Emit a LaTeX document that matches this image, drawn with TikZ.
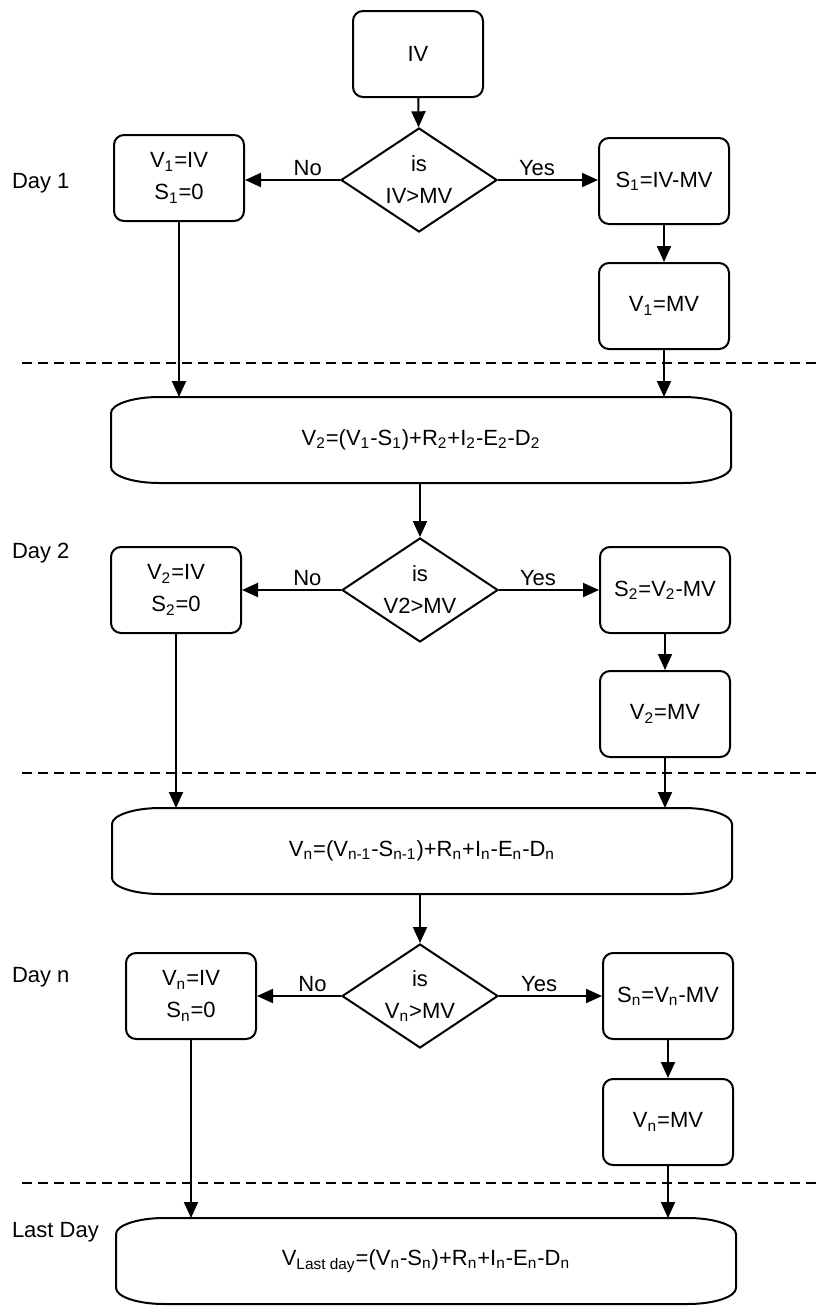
\documentclass[tikz,border=0pt]{standalone}
\usepackage{fontspec}
\setmainfont{Liberation Sans}
\usetikzlibrary{arrows.meta,shapes.geometric}
\newcommand{\ix}[1]{\textsubscript{#1}}

\begin{document}
\begin{tikzpicture}[x=0.5pt,y=-0.5pt,font=\fontsize{11pt}{16pt}\selectfont,line width=1pt,
  box/.style={draw,rounded corners=5pt,minimum width=65pt,minimum height=43pt,align=center,inner sep=0pt},
  wide/.style={minimum width=309pt,minimum height=42pt,inner sep=0pt},
  test/.style={draw,diamond,shape aspect=1.5,minimum width=78pt,minimum height=52pt,align=center,inner sep=0pt},
  go/.style={-{Triangle[length=8pt,width=7pt]}},
  lab/.style={above,inner sep=1.5pt}]
\useasboundingbox (0,0) rectangle (817,1306);
\foreach \y in {363,773,1183} {\draw[line width=0.6pt,dash pattern=on 5pt off 3pt] (22,\y)--(817,\y);}
\foreach \y/\lab [count=\i] in {183/Day 1,553/Day 2,977/Day n,1232/Last Day} {\node[anchor=west,inner sep=0pt] (day\i) at (11,\y) {\lab};}
% day 1
\node[box] (iv) at (418,54) {IV};
\node[test] (dec1) at (419,180) {is\\IV>MV};
\node[box] (keep1) at (179,178) {V\ix{1}=IV\\S\ix{1}=0};
\node[box] (spill1) at (664,181) {S\ix{1}=IV-MV};
\node[box] (cap1) at (664,306) {V\ix{1}=MV};
\node[wide] (bal2) at (421,440) {V\ix{2}=(V\ix{1}-S\ix{1})+R\ix{2}+I\ix{2}-E\ix{2}-D\ix{2}};
\draw[go] (iv)--(dec1);
\draw[go] (dec1.west)--(dec1.west -| keep1.east) node[lab,pos=0.34]{No};
\draw[go] (dec1.east)--(dec1.east -| spill1.west) node[lab,pos=0.39]{Yes};
\draw[go] (spill1)--(cap1);
\draw[go] (keep1.south)--(keep1.south |- bal2.north);
\draw[go] (cap1.south)--(cap1.south |- bal2.north);
% day 2
\node[test] (dec2) at (420,590) {is\\V2>MV};
\node[box] (keep2) at (176,590) {V\ix{2}=IV\\S\ix{2}=0};
\node[box] (spill2) at (665,590) {S\ix{2}=V\ix{2}-MV};
\node[box] (cap2) at (665,714) {V\ix{2}=MV};
\node[wide] (baln) at (422,851) {V\ix{n}=(V\ix{n-1}-S\ix{n-1})+R\ix{n}+I\ix{n}-E\ix{n}-D\ix{n}};
\draw[go] (dec2.north |- bal2.south)--(dec2.north);
\draw[go] (dec2.west)--(dec2.west -| keep2.east) node[lab,pos=0.34]{No};
\draw[go] (dec2.east)--(dec2.east -| spill2.west) node[lab,pos=0.39]{Yes};
\draw[go] (spill2)--(cap2);
\draw[go] (keep2.south)--(keep2.south |- baln.north);
\draw[go] (cap2.south)--(cap2.south |- baln.north);
% day n
\node[test] (decn) at (420,996) {is\\V\ix{n}>MV};
\node[box] (keepn) at (191,996) {V\ix{n}=IV\\S\ix{n}=0};
\node[box] (spilln) at (668,996) {S\ix{n}=V\ix{n}-MV};
\node[box] (capn) at (668,1122) {V\ix{n}=MV};
\node[wide] (last) at (426,1261) {V\ix{Last day}=(V\ix{n}-S\ix{n})+R\ix{n}+I\ix{n}-E\ix{n}-D\ix{n}};
\draw[go] (decn.north |- baln.south)--(decn.north);
\draw[go] (decn.west)--(decn.west -| keepn.east) node[lab,pos=0.34]{No};
\draw[go] (decn.east)--(decn.east -| spilln.west) node[lab,pos=0.39]{Yes};
\draw[go] (spilln)--(capn);
\draw[go] (keepn.south)--(keepn.south |- last.north);
\draw[go] (capn.south)--(capn.south |- last.north);
% balance boxes with flat corners
\foreach \w in {bal2,baln,last}
  \draw ([xshift=24pt]\w.north west) -- ([xshift=-24pt]\w.north east)
    .. controls ([xshift=-11pt]\w.north east) and ([yshift=-3.6pt]\w.north east) .. ([yshift=-8pt]\w.north east)
    -- ([yshift=8pt]\w.south east)
    .. controls ([yshift=3.6pt]\w.south east) and ([xshift=-11pt]\w.south east) .. ([xshift=-24pt]\w.south east)
    -- ([xshift=24pt]\w.south west)
    .. controls ([xshift=11pt]\w.south west) and ([yshift=3.6pt]\w.south west) .. ([yshift=8pt]\w.south west)
    -- ([yshift=-8pt]\w.north west)
    .. controls ([yshift=-3.6pt]\w.north west) and ([xshift=11pt]\w.north west) .. cycle;
\end{tikzpicture}
\end{document}
